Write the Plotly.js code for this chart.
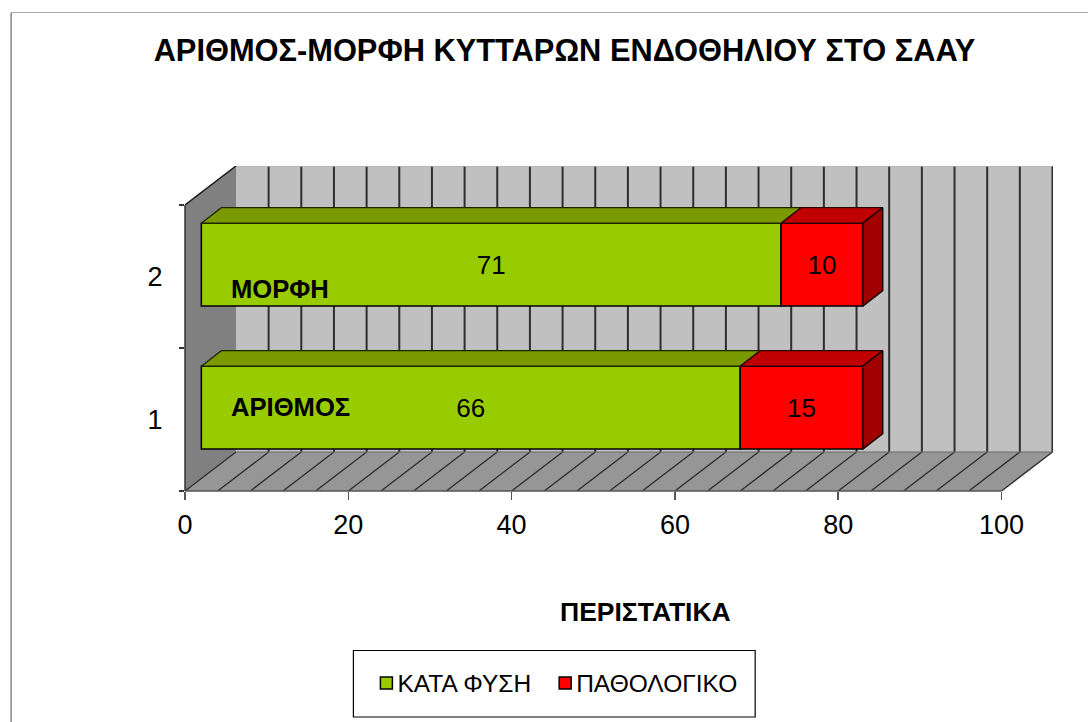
<!DOCTYPE html>
<html><head><meta charset="utf-8">
<script src="https://cdn.plot.ly/plotly-3.0.1.min.js"></script>
<style>html,body{margin:0;padding:0;background:#fff;overflow:hidden}#c{width:1088px;height:722px}
.legend .legendsymbols{transform:translateX(9px)}
.legend .legendbar path{stroke-width:2.5px !important}
</style>
</head><body><div id="c"></div>
<script>
// ---- data ----
const categories = [1, 2];
const categoryNames = ['ΑΡΙΘΜΟΣ', 'ΜΟΡΦΗ'];
const normal = [66, 71];
const abnormal = [15, 10];
const seriesNames = ['ΚΑΤΑ ΦΥΣΗ', 'ΠΑΘΟΛΟΓΙΚΟ'];
const xTicks = [0, 20, 40, 60, 80, 100];
const chartTitle = 'ΑΡΙΘΜΟΣ-ΜΟΡΦΗ ΚΥΤΤΑΡΩΝ ΕΝΔΟΘΗΛΙΟΥ ΣΤΟ ΣΑΑΥ';
const xTitle = 'ΠΕΡΙΣΤΑΤΙΚΑ';

// ---- fake-3D projection, in axis units ----
const W = 1088, H = 722;
const L = 184.5, R = 1053, T = 166, B = 491;
const xUnit = 8.17, yUnit = 143;
const xMax = (R - L) / xUnit, yMin = 0.5, yMax = yMin + (B - T) / yUnit;
const wallDx = 51 / xUnit, wallDy = 39 / yUnit;   // floor / wall depth
const frontDx = 2, frontDy = 0.083;               // bar set back from front
const barDx = 20 / xUnit, barDy = 15.5 / yUnit;   // bar depth
const barW = 0.58;
const xMaxTick = 100;
const FONT = '"Liberation Sans", Arial, sans-serif';

const paperX = px => (px - L) / (R - L);
const paperY = py => (B - py) / (B - T);

function poly(xs, ys, fill, line, lw, axis) {
  return {type:'scatter', mode: lw ? 'lines' : 'none', x:[...xs, xs[0]], y:[...ys, ys[0]],
    fill:'toself', fillcolor:fill, line:{color:line||fill, width:lw||0},
    showlegend:false, hoverinfo:'skip', yaxis:axis||'y'};
}
function segs(list, color, w) {
  const x=[], y=[];
  list.forEach(s => { x.push(s[0], s[2], null); y.push(s[1], s[3], null); });
  return {type:'scatter', mode:'lines', x, y, line:{color, width:w}, showlegend:false, hoverinfo:'skip', yaxis:'y'};
}
const yTop = yMin + 2;
const gridXs = [];
for (let v = 0; v <= xMaxTick; v += 4) gridXs.push(v);

const traces = [
  // walls and floor, on the lower subplot
  poly([wallDx, xMaxTick+wallDx, xMaxTick+wallDx, wallDx], [yMin+wallDy, yMin+wallDy, yTop+wallDy, yTop+wallDy], '#c0c0c0'),
  poly([0, wallDx, wallDx, 0], [yMin, yMin+wallDy, yTop+wallDy, yTop], '#808080'),
  poly([0, xMaxTick, xMaxTick+wallDx, wallDx], [yMin, yMin, yMin+wallDy, yMin+wallDy], '#969696'),
  segs(gridXs.filter(v => v > 0).map(v => [v+wallDx, yMin+wallDy, v+wallDx, yTop+wallDy]), '#2e2e2e', 2),
  segs(gridXs.map(v => [v, yMin, v+wallDx, yMin+wallDy]), '#2b2b2b', 1.3),
  segs([[wallDx, yTop+wallDy, xMaxTick+wallDx, yTop+wallDy]], '#b0b0b0', 1.5),
  segs([[wallDx, yMin+wallDy, xMaxTick+wallDx, yMin+wallDy]], '#6a6a6a', 1.2),
  segs([[0, yTop, wallDx, yTop+wallDy]], '#1a1a1a', 1.5),
  // front faces
  {type:'bar', orientation:'h', name:seriesNames[0], yaxis:'y2',
   y:categories.map(c => c+frontDy), x:normal, base:normal.map(() => frontDx), width:barW,
   text:normal.map(String), textposition:'inside', insidetextanchor:'middle', textangle:0, constraintext:'none',
   textfont:{family:FONT,size:26,color:'#000'}, marker:{color:'#99cc00', line:{color:'#000',width:1.5}}, hoverinfo:'skip'},
  {type:'bar', orientation:'h', name:seriesNames[1], yaxis:'y2',
   y:categories.map(c => c+frontDy), x:abnormal, base:normal.map(v => frontDx+v), width:barW,
   text:abnormal.map(String), textposition:'inside', insidetextanchor:'middle', textangle:0, constraintext:'none',
   textfont:{family:FONT,size:26,color:'#000'}, marker:{color:'#ff0000', line:{color:'#000',width:1.5}}, hoverinfo:'skip'}
];
// top and side faces
categories.forEach((c, i) => {
  const top = c + frontDy + barW/2, bot = c + frontDy - barW/2;
  const x0 = frontDx, x1 = frontDx + normal[i], x2 = x1 + abnormal[i];
  traces.push(poly([x0, x1, x1+barDx, x0+barDx], [top, top, top+barDy, top+barDy], '#7a9a00', '#1c2400', 1.2, 'y2'));
  traces.push(poly([x1, x2, x2+barDx, x1+barDx], [top, top, top+barDy, top+barDy], '#c00000', '#2a0000', 1.2, 'y2'));
  traces.push(poly([x2, x2+barDx, x2+barDx, x2], [bot, bot+barDy, top+barDy, top], '#a00000', '#1a0000', 1.5, 'y2'));
});

const layout = {
  width:W, height:H, paper_bgcolor:'#fff', plot_bgcolor:'rgba(0,0,0,0)',
  margin:{l:L, r:W-R, t:T, b:H-B, pad:0},
  font:{family:FONT, color:'#000'},
  title:{text:'<b>'+chartTitle+'</b>', font:{family:FONT,size:30.8,color:'#000'},
         x:564.5/W, xref:'container', xanchor:'center', y:1-50/H, yref:'container', yanchor:'middle'},
  barmode:'overlay', showlegend:true,
  xaxis:{range:[0,xMax], autorange:false, tickmode:'array', tickvals:xTicks, ticktext:xTicks.map(String),
         ticks:'outside', ticklen:8, tickwidth:1.5, tickcolor:'#555', showgrid:false, zeroline:false, showline:false,
         ticklabelstandoff:2, tickfont:{family:FONT,size:27,color:'#000'}, fixedrange:true},
  yaxis:{range:[yMin,yMax], autorange:false, tickmode:'array', tickvals:[0.5,1.5,2.5], ticktext:['','',''],
         ticks:'outside', ticklen:5, tickwidth:1.5, tickcolor:'#333', showgrid:false, zeroline:false, showline:false, fixedrange:true},
  yaxis2:{overlaying:'y', side:'left', range:[yMin,yMax], autorange:false, tickmode:'array', tickvals:categories, ticktext:categories.map(String),
         ticks:'outside', ticklen:16, tickcolor:'rgba(0,0,0,0)', showgrid:false, zeroline:false, showline:false,
         tickfont:{family:FONT,size:27,color:'#000'}, fixedrange:true},
  legend:{orientation:'h', x:paperX(357), y:paperY(660.5), xanchor:'left', yanchor:'top', bgcolor:'rgba(0,0,0,0)', borderwidth:0,
          font:{family:FONT,size:24.5,color:'#000'}, itemclick:false, itemdoubleclick:false, itemwidth:30, traceorder:'normal'},
  annotations:[
    {text:'<b>'+categoryNames[1]+'</b>', xref:'x', yref:'y', x:(228.5-L)/xUnit, y:yMin+(B-289)/yUnit, xanchor:'left', yanchor:'middle', showarrow:false, font:{family:FONT,size:25.6,color:'#000'}},
    {text:'<b>'+categoryNames[0]+'</b>', xref:'x', yref:'y', x:(228.5-L)/xUnit, y:yMin+(B-407)/yUnit, xanchor:'left', yanchor:'middle', showarrow:false, font:{family:FONT,size:25.6,color:'#000'}},
    {text:'<b>'+xTitle+'</b>', xref:'paper', yref:'paper', x:paperX(645), y:paperY(612), xanchor:'center', yanchor:'middle', showarrow:false, font:{family:FONT,size:26.5,color:'#000'}}
  ],
  shapes:[
    {type:'rect', xref:'paper', yref:'paper', x0:paperX(353), x1:paperX(755), y0:paperY(650.5), y1:paperY(717), line:{color:'#000',width:1.2}, fillcolor:'rgba(0,0,0,0)'},
    {type:'line', xref:'paper', yref:'paper', x0:paperX(10.5), x1:paperX(10.5), y0:paperY(12.5), y1:paperY(722), line:{color:'#666',width:1.2}},
    {type:'line', xref:'paper', yref:'paper', x0:paperX(10.5), x1:paperX(1088), y0:paperY(12.5), y1:paperY(12.5), line:{color:'#aaa',width:1.2}},
    {type:'line', xref:'paper', yref:'paper', x0:0, x1:0, y0:paperY(491), y1:paperY(205), line:{color:'#333',width:1.5}},
    {type:'line', xref:'paper', yref:'paper', x0:0, x1:paperX(1001.5), y0:0, y1:0, line:{color:'#555',width:1.5}}
  ]
};
Plotly.newPlot('c', traces, layout, {displayModeBar:false, staticPlot:true});
</script></body></html>
